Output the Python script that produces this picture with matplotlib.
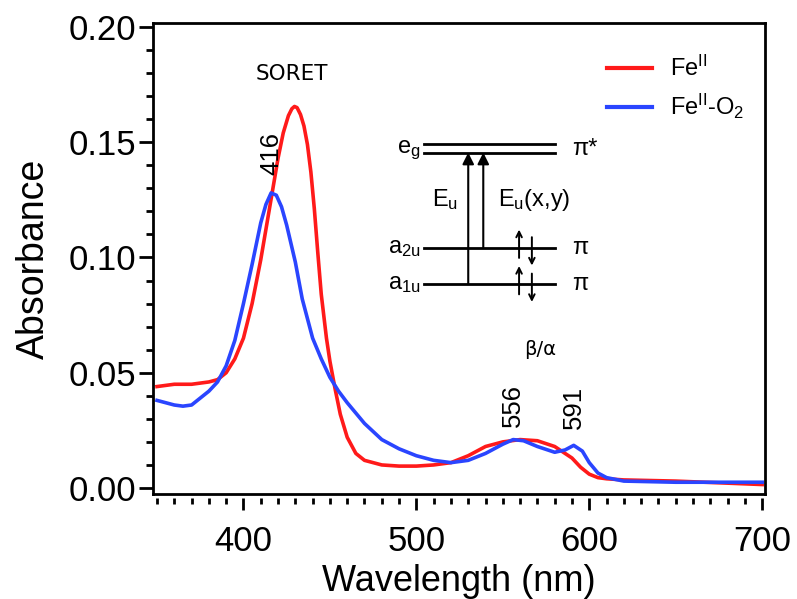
import numpy as np
import matplotlib
matplotlib.use("Agg")
import matplotlib.pyplot as plt
from matplotlib.ticker import MultipleLocator

plt.rcParams['font.family'] = ['Liberation Sans', 'DejaVu Sans']
plt.rcParams['mathtext.fontset'] = 'custom'
plt.rcParams['mathtext.rm'] = 'Liberation Sans'
plt.rcParams['mathtext.it'] = 'Liberation Sans:italic'

# Fe(II) spectrum
wl_fe = [350, 360, 370, 380, 385, 390, 395, 400, 405, 410, 415, 420, 423, 426, 428,
         429.5, 431, 433, 435, 437, 439, 441, 443, 445, 448, 450, 453, 456, 460, 465,
         470, 480, 490, 500, 510, 520, 530, 540, 550, 560, 570, 580, 590, 595, 600,
         605, 610, 620, 650, 700]
abs_fe = [0.044, 0.045, 0.045, 0.046, 0.047, 0.050, 0.056, 0.065, 0.080, 0.099, 0.121,
          0.143, 0.154, 0.1615, 0.1645, 0.1655, 0.165, 0.162, 0.157, 0.149, 0.137, 0.121,
          0.102, 0.084, 0.065, 0.055, 0.043, 0.032, 0.022, 0.015, 0.012, 0.010, 0.0095,
          0.0095, 0.010, 0.011, 0.014, 0.018, 0.020, 0.021, 0.0205, 0.018, 0.013, 0.009,
          0.006, 0.0045, 0.004, 0.0035, 0.003, 0.0015]

# Fe(II)-O2 spectrum
wl_o2 = [350, 355, 360, 365, 370, 380, 385, 390, 395, 400, 405, 410, 413, 416, 419,
         422, 425, 430, 434, 440, 445, 450, 455, 460, 470, 480, 490, 500, 510, 520,
         530, 540, 550, 556, 562, 570, 580, 586, 591, 596, 600, 605, 610, 620, 650, 700]
abs_o2 = [0.038, 0.037, 0.036, 0.0355, 0.036, 0.042, 0.046, 0.053, 0.064, 0.080, 0.097,
          0.115, 0.123, 0.128, 0.127, 0.122, 0.114, 0.098, 0.082, 0.065, 0.056, 0.048,
          0.042, 0.037, 0.028, 0.021, 0.017, 0.014, 0.012, 0.011, 0.012, 0.015, 0.019,
          0.021, 0.0205, 0.018, 0.0155, 0.0165, 0.0185, 0.016, 0.011, 0.0065, 0.0045,
          0.003, 0.0025, 0.0025]

f = plt.figure(figsize=(7.97, 5.99), dpi=100)
ax = f.add_axes([0.192, 0.1753, 0.768, 0.7863])

ax.plot(wl_fe, abs_fe, c='#ff1a1a', lw=2.6, label=r'Fe$^{\mathrm{II}}$')
ax.plot(wl_o2, abs_o2, c='#2a45ff', lw=2.6, label=r'Fe$^{\mathrm{II}}$-O$_2$')

ax.set_xlim(347.7, 701.7)
ax.set_ylim(-0.0026, 0.2017)

for s in ax.spines.values():
    s.set_linewidth(2)

# y axis
ax.yaxis.set_minor_locator(MultipleLocator(0.01))
ax.set_yticks([0, 0.05, 0.10, 0.15, 0.20])
ax.set_yticklabels(['0.00', '0.05', '0.10', '0.15', '0.20'])
ax.tick_params(axis='y', which='major', direction='out', length=10, width=2, labelsize=25, pad=2)
ax.tick_params(axis='y', which='minor', direction='out', length=5, width=2)
ax.tick_params(axis='x', which='both', bottom=False, labelbottom=False)
ax.set_ylabel('Absorbance', fontsize=27, labelpad=12)

# x ticks hanging slightly below the frame
sx = ax.secondary_xaxis(-0.0085)
sx.spines['bottom'].set_visible(False)
sx.xaxis.set_minor_locator(MultipleLocator(10))
sx.set_xticks([400, 500, 600, 700])
sx.tick_params(which='major', direction='out', length=8.5, width=2, labelsize=25, pad=11)
sx.tick_params(which='minor', direction='out', length=4.3, width=2)
sx.set_xlabel('Wavelength (nm)', fontsize=26, labelpad=4)

leg = ax.legend(loc='upper right', bbox_to_anchor=(1.0, 0.975), frameon=False, fontsize=17,
                handlelength=1.9, handletextpad=0.75, labelspacing=0.45)
for l in leg.get_lines():
    l.set_linewidth(3)

# annotations
ax.text(428, 0.1795, 'SORET', fontsize=15.5, ha='center', va='center', family='DejaVu Sans')
ax.text(416, 0.1453, '416', fontsize=18.5, rotation=90, ha='center', va='center')
ax.text(571.5, 0.0600, 'β/α', fontsize=14, ha='center', va='center', family='DejaVu Sans')
ax.text(556, 0.0360, '556', fontsize=18.5, rotation=90, ha='center', va='center')
ax.text(591, 0.0350, '591', fontsize=18.5, rotation=90, ha='center', va='center')

# MO energy-level diagram
lx0, lx1 = 504.5, 580
ax.plot([lx0, lx1], [0.1490, 0.1490], c='k', lw=2)
ax.plot([lx0, lx1], [0.1455, 0.1455], c='k', lw=2)
ax.plot([lx0, lx1], [0.1043, 0.1043], c='k', lw=2)
ax.plot([lx0, lx1], [0.0885, 0.0885], c='k', lw=2)
ax.annotate('', xy=(530, 0.1455), xytext=(530, 0.0885),
            arrowprops=dict(arrowstyle='-|>', lw=1.5, color='k', mutation_scale=17, shrinkA=0, shrinkB=0))
ax.annotate('', xy=(538.7, 0.1455), xytext=(538.7, 0.1043),
            arrowprops=dict(arrowstyle='-|>', lw=1.5, color='k', mutation_scale=17, shrinkA=0, shrinkB=0))
for yl in [0.1043, 0.0885]:
    ax.annotate('', xy=(559.4, yl + 0.0078), xytext=(559.4, yl - 0.0045),
                arrowprops=dict(arrowstyle='->', lw=1.4, color='k', mutation_scale=10, shrinkA=0, shrinkB=0))
    ax.annotate('', xy=(566.8, yl - 0.0078), xytext=(566.8, yl + 0.0045),
                arrowprops=dict(arrowstyle='->', lw=1.4, color='k', mutation_scale=10, shrinkA=0, shrinkB=0))

ax.text(502.5, 0.1465, r'e$_{\mathrm{g}}$', fontsize=17, ha='right', va='center')
ax.text(502.5, 0.1043, r'a$_{\mathrm{2u}}$', fontsize=17, ha='right', va='center')
ax.text(502.5, 0.0885, r'a$_{\mathrm{1u}}$', fontsize=17, ha='right', va='center')
ax.text(590, 0.1470, 'π*', fontsize=17, ha='left', va='center')
ax.text(590, 0.1043, 'π', fontsize=17, ha='left', va='center')
ax.text(590, 0.0885, 'π', fontsize=17, ha='left', va='center')
ax.text(524, 0.1250, r'E$_{\mathrm{u}}$', fontsize=17, ha='right', va='center')
ax.text(547, 0.1250, r'E$_{\mathrm{u}}$(x,y)', fontsize=17, ha='left', va='center')

plt.savefig('out.png', dpi=100)
